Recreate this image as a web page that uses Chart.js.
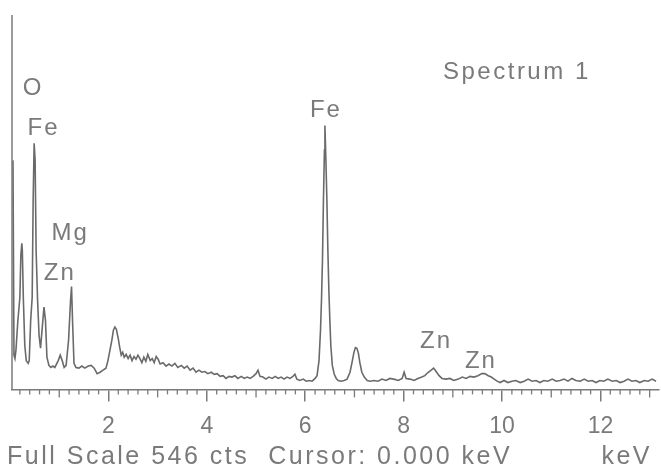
<!DOCTYPE html>
<html>
<head>
<meta charset="utf-8">
<script src="https://cdn.jsdelivr.net/npm/chart.js@4"></script>
<style>
  body { margin: 0; background: #fff; }
  canvas { display: block; }
</style>
</head>
<body>
<canvas id="spectrum" width="661" height="473"></canvas>
<script>
// EDS spectrum (keV vs counts, full scale 546 cts)
const FULL_SCALE = 546;

const energyKeV = [
    0.06, 0.08, 0.10, 0.12, 0.16, 0.20, 0.22, 0.24, 0.25, 0.27,
    0.30, 0.33, 0.37, 0.39, 0.42, 0.45, 0.47, 0.49, 0.51, 0.53,
    0.56, 0.59, 0.62, 0.65, 0.69, 0.72, 0.75, 0.79, 0.83, 0.87,
    0.91, 0.98, 1.02, 1.06, 1.10, 1.14, 1.19, 1.23, 1.25, 1.27,
    1.30, 1.34, 1.40, 1.46, 1.52, 1.59, 1.65, 1.71, 1.77, 1.83,
    1.89, 1.95, 1.99, 2.03, 2.07, 2.10, 2.13, 2.16, 2.20, 2.23,
    2.26, 2.29, 2.32, 2.36, 2.40, 2.44, 2.48, 2.52, 2.56, 2.60,
    2.64, 2.68, 2.72, 2.76, 2.80, 2.85, 2.89, 2.93, 2.97, 3.01,
    3.05, 3.11, 3.17, 3.23, 3.29, 3.35, 3.41, 3.48, 3.54, 3.60,
    3.66, 3.72, 3.78, 3.84, 3.90, 3.96, 4.02, 4.09, 4.15, 4.21,
    4.27, 4.33, 4.39, 4.45, 4.51, 4.57, 4.63, 4.70, 4.76, 4.82,
    4.88, 4.94, 5.00, 5.04, 5.08, 5.14, 5.20, 5.26, 5.33, 5.39,
    5.45, 5.51, 5.57, 5.63, 5.69, 5.75, 5.79, 5.83, 5.89, 5.96,
    6.02, 6.08, 6.14, 6.20, 6.24, 6.28, 6.31, 6.33, 6.35, 6.37,
    6.39, 6.40, 6.42, 6.44, 6.46, 6.48, 6.50, 6.52, 6.55, 6.59,
    6.63, 6.67, 6.73, 6.79, 6.85, 6.91, 6.95, 6.99, 7.02, 7.05,
    7.08, 7.11, 7.15, 7.20, 7.26, 7.32, 7.40, 7.48, 7.56, 7.64,
    7.72, 7.80, 7.89, 7.97, 8.01, 8.05, 8.13, 8.21, 8.29, 8.37,
    8.43, 8.50, 8.56, 8.61, 8.66, 8.72, 8.78, 8.86, 8.94, 9.02,
    9.11, 9.19, 9.27, 9.35, 9.43, 9.51, 9.59, 9.65, 9.72, 9.78,
    9.84, 9.90, 9.96, 10.04, 10.12, 10.20, 10.28, 10.37, 10.45, 10.53,
    10.61, 10.69, 10.77, 10.85, 10.93, 11.02, 11.10, 11.18, 11.26, 11.34,
    11.42, 11.50, 11.59, 11.67, 11.75, 11.83, 11.91, 11.99, 12.07, 12.15,
    12.24, 12.32, 12.40, 12.48, 12.56, 12.64, 12.72, 12.80, 12.89, 12.97,
    13.05, 13.13
];

const counts = [
    334, 50, 45, 57, 101, 134, 196, 213, 203, 134,
    64, 42, 38, 42, 101, 134, 276, 359, 334, 203,
    130, 79, 60, 86, 120, 101, 47, 35, 32, 34,
    32, 42, 50, 42, 32, 35, 72, 130, 150, 101,
    38, 32, 31, 34, 31, 34, 35, 31, 23, 25,
    28, 31, 42, 57, 72, 86, 91, 88, 74, 61,
    50, 54, 47, 51, 45, 50, 42, 48, 44, 50,
    45, 39, 47, 41, 51, 42, 45, 39, 48, 44,
    37, 39, 34, 37, 34, 38, 32, 35, 31, 34,
    28, 31, 25, 28, 25, 26, 23, 25, 22, 23,
    19, 20, 16, 19, 18, 20, 16, 19, 16, 18,
    16, 19, 23, 28, 19, 18, 15, 18, 16, 19,
    16, 18, 15, 18, 16, 19, 22, 15, 13, 15,
    12, 13, 12, 16, 20, 42, 86, 130, 188, 276,
    349, 385, 334, 276, 203, 145, 101, 64, 35, 22,
    16, 13, 12, 13, 15, 25, 39, 54, 61, 60,
    53, 39, 25, 18, 13, 12, 13, 12, 15, 13,
    16, 15, 13, 16, 25, 16, 15, 13, 16, 18,
    20, 25, 28, 31, 26, 20, 16, 15, 16, 13,
    15, 18, 16, 19, 18, 20, 23, 23, 20, 18,
    15, 12, 10, 13, 10, 12, 13, 10, 12, 15,
    12, 13, 10, 13, 12, 15, 12, 13, 15, 12,
    16, 13, 12, 15, 12, 13, 10, 13, 12, 15,
    12, 13, 10, 12, 15, 12, 13, 10, 13, 12,
    15, 12
];

const majorTicks = [2, 4, 6, 8, 10, 12];

// peak labels: name, keV, counts at text baseline
const peakNames = ["O", "Fe", "Mg", "Zn", "Fe", "Zn", "Zn"];
const peakKeV = [0.47, 0.68, 1.22, 1.01, 6.42, 8.66, 9.57];
const peakLabelCts = [429, 371, 218, 159, 397, 60, 31];

const INK = "#7a7a7a";
const LINE = "#6a6a6a";
const FONT = "'Liberation Sans', Arial, sans-serif";

const decorations = {
    id: "decorations",
    afterDraw(chart) {
        const { ctx, chartArea } = chart;
        const x = chart.scales.x;
        const y = chart.scales.y;
        ctx.save();

        // vertical axis line
        ctx.strokeStyle = INK;
        ctx.lineWidth = 1.5;
        ctx.beginPath();
        ctx.moveTo(chartArea.left, chartArea.top);
        ctx.lineTo(chartArea.left, chartArea.bottom);
        ctx.stroke();

        // minor ticks every 0.2 keV, slightly longer at whole keV
        ctx.lineWidth = 1.3;
        for (let i = 1; i * 0.2 <= x.max; i++) {
            if (i % 10 === 0) continue;
            const px = x.getPixelForValue(i * 0.2);
            const len = i % 5 === 0 ? 8 : 5;
            ctx.beginPath();
            ctx.moveTo(px, chartArea.bottom);
            ctx.lineTo(px, chartArea.bottom + len);
            ctx.stroke();
        }

        ctx.fillStyle = INK;
        ctx.textBaseline = "alphabetic";
        ctx.letterSpacing = "2px";
        ctx.font = "24px " + FONT;
        ctx.textAlign = "center";
        peakNames.forEach((name, i) => {
            ctx.fillText(name, x.getPixelForValue(peakKeV[i]), y.getPixelForValue(peakLabelCts[i]));
        });

        ctx.letterSpacing = "2.5px";
        ctx.textAlign = "left";
        ctx.fillText("Spectrum 1", x.getPixelForValue(8.8), y.getPixelForValue(453));

        ctx.font = "25px " + FONT;
        ctx.fillText("Full Scale " + FULL_SCALE + " cts  Cursor: 0.000 keV", 7, 464);
        ctx.textAlign = "right";
        ctx.fillText("keV", 652, 464);
        ctx.restore();
    },
};

new Chart(document.getElementById("spectrum"), {
    type: "line",
    data: {
        datasets: [
            {
                data: energyKeV.map((e, i) => ({ x: e, y: counts[i] })),
                borderColor: LINE,
                borderWidth: 1.6,
                pointRadius: 0,
                tension: 0,
                fill: false,
            },
        ],
    },
    options: {
        responsive: false,
        animation: false,
        layout: { padding: { left: 12, right: 2, top: 15, bottom: 22 } },
        plugins: { legend: { display: false }, tooltip: { enabled: false } },
        scales: {
            x: {
                type: "linear",
                min: 0.04,
                max: 13.19,
                afterBuildTicks: (scale) => {
                    scale.ticks = majorTicks.map((v) => ({ value: v }));
                },
                ticks: {
                    color: INK,
                    font: { family: FONT, size: 23 },
                    padding: 11,
                    maxRotation: 0,
                    autoSkip: false,
                },
                grid: {
                    drawOnChartArea: false,
                    drawTicks: true,
                    tickLength: 12,
                    color: INK,
                    lineWidth: 1.5,
                },
                border: { display: true, color: INK, width: 1.5 },
            },
            y: {
                display: false,
                min: 0,
                max: FULL_SCALE,
            },
        },
    },
    plugins: [decorations],
});
</script>
</body>
</html>
